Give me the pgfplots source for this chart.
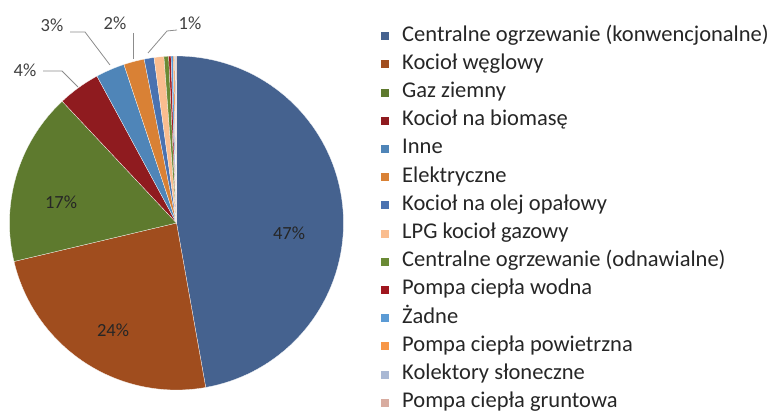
\documentclass[border=0pt]{standalone}
\usepackage{pgfplots}
\pgfplotsset{compat=1.18}
\usepackage{fontspec}
\setmainfont{Carlito}
\definecolor{c1}{HTML}{45628F}
\definecolor{c2}{HTML}{A04D1E}
\definecolor{c3}{HTML}{5E7A2E}
\definecolor{c4}{HTML}{8F1B1F}
\definecolor{c5}{HTML}{4F85B8}
\definecolor{c6}{HTML}{D98135}
\definecolor{c7}{HTML}{4A72B0}
\definecolor{c8}{HTML}{FABD8F}
\definecolor{c9}{HTML}{6A8A35}
\definecolor{c10}{HTML}{A0171F}
\definecolor{c11}{HTML}{5B9BD5}
\definecolor{c12}{HTML}{F79646}
\definecolor{c13}{HTML}{A9B8D4}
\definecolor{c14}{HTML}{D8ACA0}
\definecolor{txt}{HTML}{262626}
\definecolor{lbl}{HTML}{404040}
\definecolor{lead}{HTML}{8C8C8C}
\newcommand\cum{0}
% #1 colour, #2 share in percent, #3 legend text
\newcommand\slice[3]{%
  \pgfmathsetmacro\sa{\cum*3.6}%
  \pgfmathsetmacro\newcum{\cum+#2}%
  \pgfmathsetmacro\sb{\newcum*3.6}%
  \global\let\cum\newcum
  \edef\doit{\noexpand\addplot[fill=#1, draw=white, line width=0.25pt, domain=\sa:\sb, samples=80, variable=\noexpand\t] ({176.5+167*sin(\noexpand\t)},{195+167*cos(\noexpand\t)}) -- (axis cs:176.5,195) -- cycle;}%
  \doit
  \addlegendentry{#3}%
}
\begin{document}
\begin{tikzpicture}
\begin{axis}[x=1pt, y=1pt, xmin=0, xmax=777, ymin=0, ymax=418,
  hide axis, clip=false,
  legend cell align=left,
  legend image code/.code={\fill[#1,draw=none] (0pt,-4pt) rectangle (8pt,4pt);},
  legend style={at={(0.4865,0.9426)}, anchor=north west, draw=none, fill=none,
    font=\fontsize{22.5}{24}\selectfont, text=txt, row sep=8.2pt, column sep=9pt,
    nodes={text height=15pt, text depth=5pt, inner ysep=0pt, inner xsep=4pt}},
]
\slice{c1}{47.2}{Centralne ogrzewanie (konwencjonalne)}
\slice{c2}{24.1}{Kocioł węglowy}
\slice{c3}{16.7}{Gaz ziemny}
\slice{c4}{4.1}{Kocioł na biomasę}
\slice{c5}{2.8}{Inne}
\slice{c6}{2.0}{Elektryczne}
\slice{c7}{0.95}{Kocioł na olej opałowy}
\slice{c8}{0.95}{LPG kocioł gazowy}
\slice{c9}{0.45}{Centralne ogrzewanie (odnawialne)}
\slice{c10}{0.23}{Pompa ciepła wodna}
\slice{c11}{0.2}{Żadne}
\slice{c12}{0.15}{Pompa ciepła powietrzna}
\slice{c13}{0.1}{Kolektory słoneczne}
\slice{c14}{0.07}{Pompa ciepła gruntowa}
% leader lines
\addplot[forget plot, draw=lead, line width=0.8pt, no marks] coordinates {(43,347) (62,347) (78,331)};
\addplot[forget plot, draw=lead, line width=0.8pt, no marks] coordinates {(70,386) (85,386) (110,353)};
\addplot[forget plot, draw=lead, line width=0.8pt, no marks] coordinates {(133,385) (133,359)};
\addplot[forget plot, draw=lead, line width=0.8pt, no marks] coordinates {(177,388) (167,387) (148,365)};
% labels
\node[font=\fontsize{18.5}{20}\selectfont, text=txt] at (axis cs:289,185) {47\%};
\node[font=\fontsize{18.5}{20}\selectfont, text=txt] at (axis cs:113,88) {24\%};
\node[font=\fontsize{18.5}{20}\selectfont, text=txt] at (axis cs:61,216) {17\%};
\node[font=\fontsize{18.5}{20}\selectfont, text=lbl] at (axis cs:25,348) {4\%};
\node[font=\fontsize{18.5}{20}\selectfont, text=lbl] at (axis cs:52,393) {3\%};
\node[font=\fontsize{18.5}{20}\selectfont, text=lbl] at (axis cs:115,395) {2\%};
\node[font=\fontsize{18.5}{20}\selectfont, text=lbl] at (axis cs:190,395) {1\%};
\end{axis}
\pgfresetboundingbox
\path[use as bounding box] (0,0) rectangle (777pt,418pt);
\end{tikzpicture}
\end{document}
